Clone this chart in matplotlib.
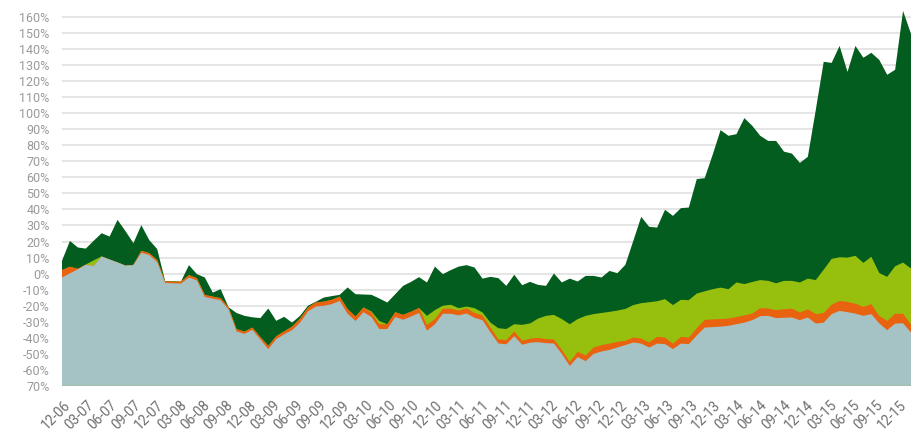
"""Layered area chart of cumulative relative performance, Dec 2006 - Dec 2015.

Four cumulative boundaries are filled down to the -70 % floor, drawn from the
outermost (dark green) inwards so each inner layer sits on top of the last.

    python plot.py
"""

import matplotlib.pyplot as plt
import numpy as np

# Cumulative boundaries, one value per observation (percent).
top_dark = [
    8.0, 20.4, 16.3, 15.6, 20.5, 25.2, 23.1, 33.5, 26.5, 19.0,
    30.2, 20.9, 15.3, -4.6, -4.7, -4.9, 5.3, -0.3, -2.4, -11.8,
    -9.7, -21.0, -24.5, -26.3, -27.2, -27.7, -21.7, -29.4, -26.9, -30.5,
    -26.3, -20.0, -17.5, -14.9, -14.0, -13.2, -8.6, -12.8, -13.0, -13.2,
    -15.5, -18.0, -12.8, -7.6, -5.1, -2.2, -5.5, 4.4, -0.3, 2.2,
    4.4, 5.3, 3.8, -3.1, -2.0, -2.8, -7.6, -0.7, -7.2, -5.1,
    -7.0, -7.6, 0.1, -5.5, -3.1, -4.9, -1.4, -1.4, -2.4, 1.7,
    0.3, 5.5, 20.4, 35.4, 29.2, 28.7, 39.8, 36.0, 40.8, 41.2,
    58.9, 59.5, 74.0, 89.4, 85.9, 86.9, 96.9, 92.1, 85.9, 82.7,
    82.7, 76.0, 74.8, 69.0, 72.8, 102.0, 132.0, 131.3, 141.9, 125.7,
    141.9, 134.5, 137.6, 133.2, 123.9, 127.0, 163.7, 149.4,
]
top_light = [
    2.2, 4.3, 3.0, 5.7, 8.3, 10.7, 8.8, 7.0, 5.0, 5.5,
    14.2, 12.8, 8.5, -4.8, -5.0, -5.0, -0.9, -2.8, -13.2, -14.3,
    -15.3, -21.0, -34.6, -36.1, -33.6, -39.5, -45.0, -39.0, -36.0, -33.0,
    -28.0, -21.1, -18.0, -17.4, -16.3, -14.3, -22.1, -26.7, -21.1, -23.5,
    -29.5, -31.5, -24.0, -25.7, -23.7, -21.4, -26.3, -22.7, -20.0, -19.4,
    -21.5, -20.5, -21.5, -24.2, -30.5, -34.0, -34.5, -31.5, -31.9, -31.0,
    -28.0, -26.3, -25.7, -28.3, -31.5, -28.3, -26.3, -25.2, -24.5, -23.8,
    -23.0, -22.0, -19.6, -18.4, -17.8, -17.2, -15.9, -19.6, -16.3, -16.5,
    -12.4, -11.0, -9.7, -8.7, -9.7, -5.5, -6.5, -5.2, -4.0, -4.5,
    -6.0, -4.5, -4.5, -5.5, -3.1, -4.0, 2.5, 9.2, 10.2, 10.0,
    11.1, 6.7, 10.5, 0.4, -2.0, 4.6, 6.9, 3.2,
]
top_orange = [
    2.2, 4.3, 3.0, 5.7, 4.9, 10.7, 8.8, 7.0, 5.0, 5.5,
    14.2, 12.8, 8.5, -4.8, -5.0, -5.0, -0.9, -2.8, -13.2, -14.3,
    -15.3, -21.0, -34.6, -36.1, -33.6, -39.5, -45.0, -39.0, -36.0, -33.0,
    -28.0, -21.1, -18.0, -17.4, -16.3, -14.3, -22.1, -26.7, -21.1, -24.2,
    -31.5, -31.5, -24.0, -25.7, -23.7, -21.4, -32.0, -28.3, -21.8, -21.8,
    -23.0, -21.6, -24.5, -26.0, -33.6, -41.0, -41.4, -36.0, -41.8, -40.5,
    -40.0, -40.8, -41.0, -47.5, -55.0, -48.7, -51.0, -46.0, -44.5, -43.6,
    -42.5, -41.9, -39.8, -40.4, -42.9, -39.4, -39.8, -43.6, -39.4, -39.8,
    -34.0, -28.8, -28.5, -28.3, -28.0, -27.0, -26.0, -24.9, -21.5, -21.7,
    -22.7, -22.2, -21.8, -24.2, -22.2, -25.2, -24.5, -19.3, -17.0, -17.6,
    -18.7, -20.7, -19.0, -26.3, -29.5, -25.0, -25.0, -31.7,
]
top_base = [
    -2.4, 0.2, 2.7, 5.5, 4.9, 10.7, 8.8, 7.0, 5.0, 5.3,
    13.0, 11.6, 7.2, -5.8, -6.0, -6.2, -2.4, -4.2, -14.5, -15.6,
    -16.6, -22.3, -36.0, -37.5, -35.0, -41.0, -47.0, -40.8, -37.8, -35.2,
    -30.5, -23.5, -20.5, -20.0, -19.0, -17.0, -25.0, -29.5, -24.0, -27.0,
    -34.5, -34.5, -27.0, -28.7, -26.7, -24.5, -35.5, -31.5, -25.0, -25.0,
    -26.0, -24.8, -27.5, -29.0, -36.5, -43.5, -44.0, -39.0, -44.3, -43.0,
    -42.7, -43.3, -43.5, -50.0, -57.5, -52.0, -54.5, -50.0, -48.5, -47.5,
    -46.0, -44.5, -42.9, -43.6, -46.0, -43.6, -43.9, -47.0, -43.6, -43.9,
    -38.5, -33.6, -33.3, -33.0, -32.5, -31.5, -30.5, -29.0, -26.5, -26.3,
    -27.7, -27.5, -27.3, -29.0, -27.3, -31.1, -30.5, -25.2, -23.2, -24.0,
    -24.9, -26.3, -25.2, -31.0, -35.2, -31.1, -30.9, -36.7,
]

# Quarter labels along the time axis.
x_labels = ["12-06"] + [f"{m}-{y:02d}" for y in range(7, 16)
                        for m in ("03", "06", "09", "12")]
y_ticks = list(range(-70, 161, 10))
# The reference draws the floor label without its sign.
y_labels = ["70%" if v == -70 else f"{v}%" for v in y_ticks]

FLOOR = -70
COLOR_DARK = "#025D1E"
COLOR_LIGHT = "#97C00E"
COLOR_ORANGE = "#E9620F"
COLOR_BASE = "#A5C2C5"
COLOR_GRID = "#E3E3E3"
COLOR_YTEXT = "#9A9A9A"
COLOR_XTEXT = "#6E6E6E"

# Label anchors, in observation units: the first sits a little right of the
# first point, then one every ~2.93 observations.
TICK_START = 0.82
TICK_STEP = 2.926


def main():
    plt.rcParams["font.family"] = ["Roboto", "DejaVu Sans"]

    fig = plt.figure(figsize=(9.24, 4.30), dpi=100, facecolor="white")
    ax = fig.add_axes([62 / 924, 44 / 430, 849 / 924, 382 / 430])

    x = np.arange(len(top_dark))
    layers = [
        (top_dark, COLOR_DARK),
        (top_light, COLOR_LIGHT),
        (top_orange, COLOR_ORANGE),
        (top_base, COLOR_BASE),
    ]
    for values, color in layers:
        ax.fill_between(x, FLOOR, values, facecolor=color, edgecolor="none",
                        linewidth=0, zorder=2)

    ax.axhline(FLOOR, color="#8DBF4A", linewidth=1.0, zorder=3)

    ax.set_xlim(0, len(top_dark) - 1)
    ax.set_ylim(FLOOR, 168)

    ax.set_yticks(y_ticks, y_labels)
    ax.yaxis.grid(True, color=COLOR_GRID, linewidth=1.3, zorder=0)
    ax.set_axisbelow(True)

    tick_pos = TICK_START + TICK_STEP * np.arange(len(x_labels))
    ax.set_xticks(tick_pos, x_labels, rotation=45, ha="right",
                  rotation_mode="anchor", va="center")

    ax.tick_params(axis="y", length=0, pad=9, labelsize=9, labelcolor=COLOR_YTEXT)
    ax.tick_params(axis="x", length=0, pad=12, labelsize=9.8, labelcolor=COLOR_XTEXT)
    for spine in ax.spines.values():
        spine.set_visible(False)

    fig.savefig("out.png", dpi=100, facecolor="white")
    plt.close(fig)


if __name__ == "__main__":
    main()
